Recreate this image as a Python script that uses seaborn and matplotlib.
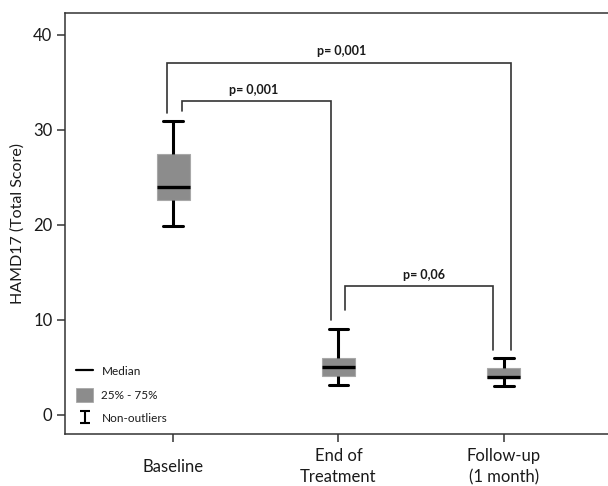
import numpy as np
import pandas as pd
import matplotlib
matplotlib.use("Agg")
import matplotlib.pyplot as plt
import seaborn as sns
from matplotlib.lines import Line2D
from matplotlib.patches import Patch

# ---- data: min, Q1, median, Q3, max ----
categories = ["Baseline", "End of\nTreatment", "Follow-up\n(1 month)"]
baseline = [19.9, 22.6, 24.0, 27.5, 30.9]
end_of_treatment = [3.2, 4.1, 5.05, 6.05, 9.05]
follow_up = [3.0, 3.85, 4.0, 4.9, 6.0]

p_labels = ["p= 0,001", "p= 0,001", "p= 0,06"]
y_ticks = [0, 10, 20, 30, 40]

df = pd.DataFrame({
    "group": np.repeat(categories, 5),
    "score": baseline + end_of_treatment + follow_up,
})

sns.set_style("white")
plt.rcParams["font.family"] = ["Lato", "DejaVu Sans"]

fig = plt.figure(figsize=(6.08, 4.86), dpi=100)
ax = fig.add_axes([65 / 608, (486 - 434) / 486, (626 - 65) / 608, (434 - 13.3) / 486])

box_gray = "#8c8c8c"
sns.boxplot(data=df, x="group", y="score", order=categories, ax=ax,
            width=0.2, whis=(0, 100), showfliers=False,
            color=box_gray, linecolor="black", linewidth=2.2,
            boxprops=dict(facecolor=box_gray, edgecolor="#a8a8a8", linewidth=0.8),
            medianprops=dict(color="black", linewidth=2.4),
            whiskerprops=dict(color="black", linewidth=2.2),
            capprops=dict(color="black", linewidth=2.2),
            capwidths=0.12)

ax.set_xlim(-0.655, 2.74)
ax.set_ylim(-2.0, 42.28)
ax.set_yticks(y_ticks)
ax.set_yticklabels([str(v) for v in y_ticks])
ax.set_xlabel("")
ax.set_ylabel("HAMD17 (Total Score)", fontsize=11.5, color="#1a1a1a", labelpad=6)

for s in ["left", "bottom", "top"]:
    ax.spines[s].set_visible(True)
    ax.spines[s].set_color("#333333")
    ax.spines[s].set_linewidth(1.1)
ax.spines["right"].set_visible(False)

ax.tick_params(axis="both", direction="out", length=6, width=1.1,
               color="#333333", labelsize=12, labelcolor="#1a1a1a")
ax.tick_params(axis="y", left=True, pad=3)
ax.tick_params(axis="x", bottom=True, pad=17.5)
for lab in ax.get_xticklabels():
    lab.set_va("center")
    lab.set_linespacing(1.4)

# ---- significance brackets ----
br_color = "#333333"
br_lw = 1.2
# (x_left, x_right, y_top, y_left_bottom, y_right_bottom)
brackets = [
    (-0.04, 2.047, 37.1, 31.8, 6.8),
    (0.056, 0.955, 33.05, 32.0, 10.0),
    (1.038, 1.937, 13.6, 11.05, 6.8),
]
label_pos = [(1.018, 38.3), (0.484, 34.2), (1.516, 14.7)]
for (xl, xr, yt, ylb, yrb), txt, (tx, ty) in zip(brackets, p_labels, label_pos):
    ax.plot([xl, xl, xr, xr], [ylb, yt, yt, yrb], color=br_color, lw=br_lw,
            solid_joinstyle="miter")
    ax.text(tx, ty, txt, ha="center", va="center", fontsize=9,
            fontweight="bold", color="#1a1a1a")

# ---- legend ----
h_med = Line2D([], [], color="black", lw=1.6)
h_box = Patch(facecolor=box_gray, edgecolor="#a8a8a8", lw=0.6)
h_err = ax.errorbar([np.nan], [np.nan], yerr=[1], fmt="none", ecolor="black",
                    elinewidth=1.5, capsize=3.5, capthick=1.5)
leg = ax.legend([h_med, h_box, h_err], ["Median", "25% - 75%", "Non-outliers"],
                loc="lower left", bbox_to_anchor=(0.005, 0.0), frameon=False,
                fontsize=8.5, handlelength=1.45, handleheight=1.5,
                handletextpad=0.7, labelspacing=0.78, borderaxespad=0.3)
for t in leg.get_texts():
    t.set_color("#1a1a1a")

fig.savefig("out.png", dpi=100)
